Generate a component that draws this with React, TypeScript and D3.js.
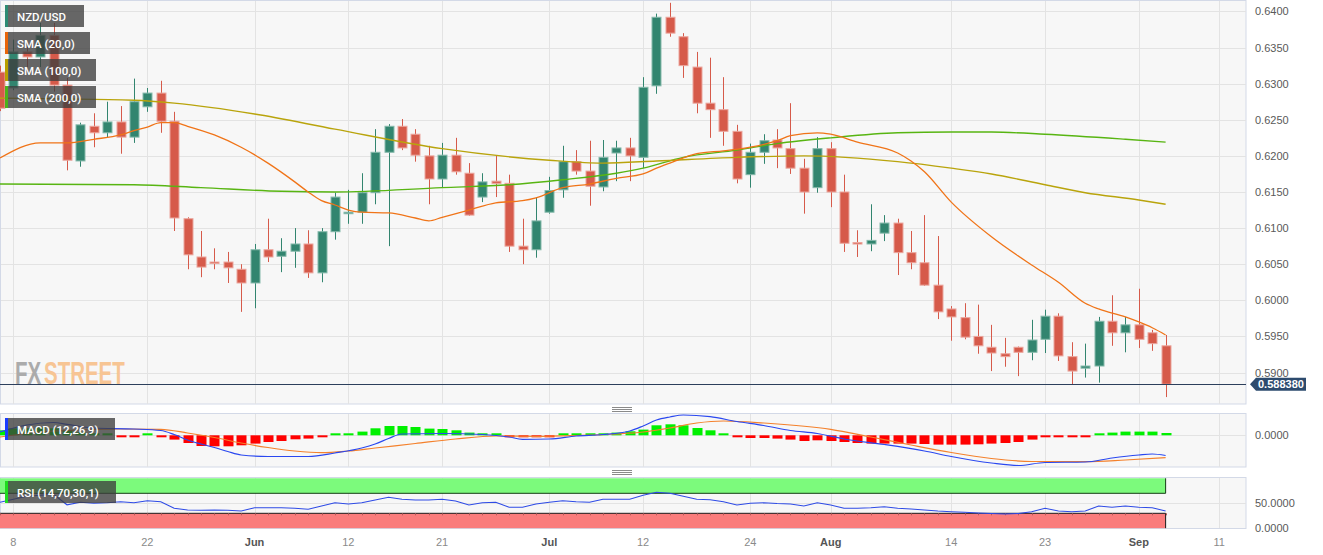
import React from "react";
import * as d3 from "d3";

// ---------- DATA ----------
const START_DATE = "2023-05-05"; // first (partly visible) candle
const openP = [0.6316,0.6294,0.6344,0.6337,0.6367,0.6298,0.6193,0.6241,0.6232,0.6247,0.6226,0.6268,0.6287,0.6248,0.6113,0.6060,0.6053,0.6053,0.6043,0.6024,0.6070,0.6061,0.6068,0.6078,0.6038,0.6095,0.6121,0.6122,0.6149,0.6205,0.6241,0.6230,0.6200,0.6168,0.6201,0.6176,0.6143,0.6165,0.6162,0.6075,0.6070,0.6122,0.6153,0.6192,0.6179,0.6157,0.6204,0.6211,0.6198,0.6297,0.6392,0.6365,0.6323,0.6273,0.6264,0.6234,0.6174,0.6205,0.6222,0.6210,0.6183,0.6156,0.6210,0.6150,0.6080,0.6078,0.6093,0.6107,0.6066,0.6052,0.6021,0.5988,0.5976,0.5950,0.5935,0.5926,0.5935,0.5928,0.5946,0.5978,0.5922,0.5906,0.5909,0.5971,0.5955,0.5966,0.5955,0.5937];
const highP = [0.6325,0.6361,0.6351,0.6384,0.6384,0.6308,0.6246,0.6259,0.6275,0.6269,0.6307,0.6294,0.6304,0.6261,0.6115,0.6096,0.6072,0.6067,0.6050,0.6078,0.6113,0.6086,0.6100,0.6097,0.6100,0.6149,0.6153,0.6176,0.6237,0.6244,0.6251,0.6237,0.6214,0.6218,0.6225,0.6190,0.6176,0.6201,0.6174,0.6113,0.6143,0.6171,0.6214,0.6208,0.6221,0.6222,0.6221,0.6225,0.6309,0.6397,0.6412,0.6370,0.6344,0.6336,0.6309,0.6243,0.6217,0.6230,0.6237,0.6273,0.6196,0.6226,0.6219,0.6174,0.6097,0.6133,0.6118,0.6113,0.6096,0.6118,0.6089,0.5992,0.5996,0.5994,0.5966,0.5948,0.5936,0.5973,0.5987,0.5982,0.5942,0.5940,0.5977,0.6007,0.5977,0.6016,0.5959,0.5952];
const lowP = [0.6262,0.6291,0.6323,0.6323,0.6289,0.6180,0.6185,0.6212,0.6226,0.6203,0.6218,0.6261,0.6232,0.6096,0.6043,0.6032,0.6043,0.6024,0.5984,0.5989,0.6053,0.6039,0.6045,0.6031,0.6025,0.6084,0.6106,0.6106,0.6133,0.6075,0.6208,0.6192,0.6133,0.6156,0.6174,0.6117,0.6136,0.6143,0.6067,0.6050,0.6059,0.6120,0.6142,0.6174,0.6131,0.6151,0.6165,0.6165,0.6183,0.6286,0.6365,0.6308,0.6259,0.6225,0.6214,0.6162,0.6156,0.6189,0.6183,0.6175,0.6120,0.6149,0.6129,0.6067,0.6060,0.6068,0.6082,0.6035,0.6043,0.6020,0.5974,0.5944,0.5946,0.5926,0.5902,0.5908,0.5895,0.5917,0.5927,0.5916,0.5884,0.5893,0.5886,0.5937,0.5928,0.5934,0.5930,0.5866];
const closeP = [0.6266,0.6344,0.6337,0.6367,0.6298,0.6194,0.6243,0.6232,0.6247,0.6226,0.6275,0.6287,0.6248,0.6114,0.6063,0.6046,0.6052,0.6045,0.6024,0.6070,0.6060,0.6068,0.6078,0.6038,0.6095,0.6143,0.6122,0.6149,0.6205,0.6241,0.6211,0.6201,0.6168,0.6201,0.6178,0.6118,0.6164,0.6162,0.6075,0.6070,0.6110,0.6152,0.6192,0.6179,0.6158,0.6198,0.6211,0.6200,0.6295,0.6392,0.6370,0.6325,0.6273,0.6264,0.6234,0.6168,0.6205,0.6221,0.6211,0.6183,0.6150,0.6210,0.6150,0.6079,0.6079,0.6083,0.6107,0.6066,0.6052,0.6021,0.5984,0.5977,0.5949,0.5937,0.5927,0.5922,0.5928,0.5945,0.5978,0.5923,0.5902,0.5909,0.5971,0.5955,0.5966,0.5946,0.5940,0.58838];

const sma20Day = [-1,2,4,6,8,9,10,11,12,13,15,17,19,21,22,23,24,25,26,28,30,31,32,34,36,38,39,41,43,45,47,48,49,51,53,55,57,58,60,61,63,66,67,68,70,73,76,78,80,81,83,84,85,86];
const sma20Val = [0.6197,0.6218,0.6218,0.6223,0.6229,0.6235,0.6240,0.6246,0.6246,0.6241,0.6229,0.6212,0.6190,0.6164,0.6150,0.6138,0.6132,0.6125,0.6122,0.6121,0.6114,0.6110,0.6115,0.6125,0.6135,0.6138,0.6142,0.6156,0.6161,0.6169,0.6175,0.6183,0.6190,0.6203,0.6207,0.6212,0.6221,0.6228,0.6232,0.6230,0.6219,0.6204,0.6193,0.6178,0.6136,0.6088,0.6049,0.6025,0.5996,0.5988,0.5977,0.5970,0.5962,0.5952];
const sma100Day = [-1,9,12,18,24,32,40,44,48,54,59,66,70,73,77,80,84,86];
const sma100Val = [0.6280,0.6277,0.6273,0.6258,0.6237,0.6210,0.6194,0.6190,0.6193,0.6198,0.6200,0.6192,0.6183,0.6175,0.6160,0.6149,0.6139,0.6133];
const sma200Day = [-1,9,14,20,24,32,37,41,45,47,50,54,57,61,66,70,73,77,83,86];
const sma200Val = [0.6161,0.6160,0.6156,0.6151,0.6150,0.6156,0.6160,0.6167,0.6176,0.6183,0.6198,0.6208,0.6217,0.6225,0.6232,0.6233,0.6233,0.6230,0.6223,0.6219];

const macdDay = [-1,1,3,4,6,9,11,12,13,14,15,16,17,19,22,24,26,27,28,29,32,35,37,38,40,42,44,46,47,48,49,50,52,54,56,58,60,62,65,68,70,73,75,77,80,82,84,85,86];
const macdVal = [0.00033,0.00103,0.00128,0.0011,0.00073,0.00063,0.00048,0.00008,-0.00047,-0.00087,-0.00122,-0.00162,-0.00197,-0.00212,-0.00212,-0.00177,-0.00127,-0.00087,-0.00032,0.00013,0.00018,0.00008,-0.00017,-0.0004,-0.00037,-0.00007,0.00008,0.00043,0.00093,0.00153,0.00183,0.00203,0.00186,0.00138,0.00098,0.00048,0.00018,-0.00037,-0.00092,-0.00157,-0.00212,-0.00277,-0.00302,-0.00272,-0.00267,-0.00227,-0.00197,-0.00187,-0.00202];
const signalDay = [-1,2,5,8,11,13,15,17,19,21,23,25,27,30,33,36,39,42,45,47,49,51,53,56,61,64,67,70,73,76,80,83,86];
const signalVal = [-0.00017,0.00033,0.00053,0.00063,0.0006,0.00023,-0.00022,-0.00077,-0.00122,-0.00157,-0.00174,-0.00157,-0.00127,-0.00082,-0.00037,-0.00007,-0.0001,-0.00002,0.00013,0.00033,0.00073,0.00123,0.00143,0.00123,0.0006,-0.00017,-0.00097,-0.00172,-0.00232,-0.00262,-0.00264,-0.00247,-0.00224];
const histVal = [5,7,7,8,7,5,3,2,1,-0.5,-0.3,0.4,-0.7,-4.3,-7.7,-10.7,-11,-11,-10,-8.3,-6.7,-5.7,-4,-3.3,-1.7,1,2,3.7,7,9.3,9.3,8.3,6.7,6.3,5,2.7,1.7,1.3,-1.7,-1.7,-1.7,-1.3,0.7,1,1.3,1.7,2.7,4,5.7,10,11,10,7.3,5,1.7,-1,-2.7,-2.7,-3.3,-4.3,-5.7,-5,-5.7,-6.7,-7.7,-8.3,-8.3,-8.3,-8.3,-8.7,-9.3,-9.3,-9.3,-9,-8.3,-7.7,-6.7,-4.3,-1.7,-1.7,-1.7,-1.3,1.3,2.7,3.7,3.7,3.7,2.3].map(v => v / 10000);
const rsiVal = [52,58,64,66,68,47,52,50,51,53,51,55,53,40,36.6,36,36.6,36,34.6,41,41,41,40,38,44.6,51,48.6,51,56.6,62,58,56.6,56.6,58,54.6,46.6,51,52,42,42,48.6,52,55,53,52,58,58,58,66,72,70,64,58,57,53,46.6,50,51,49.5,48.6,44.6,51,46.6,40,40,41,43,40,38.5,36.6,34.5,33,32,30.5,29.5,28.6,29.5,33,40,34.5,33,34.6,44.6,42,44.6,42,41,34.6];

const priceTicks = [0.59,0.595,0.6,0.605,0.61,0.615,0.62,0.625,0.63,0.635,0.64];
const tickDates = ["2023-05-08","2023-05-22","2023-06-01","2023-06-12","2023-06-21","2023-07-03","2023-07-12","2023-07-24","2023-08-01","2023-08-14","2023-08-23","2023-09-01","2023-09-11"];
const tickLabels = ["8","22","Jun","12","21","Jul","12","24","Aug","14","23","Sep","11"];
const tickIsMonth = [false,false,true,false,false,true,false,false,true,false,false,true,false];
const lastPrice = 0.58838;

// ---------- HELPERS ----------
function tradingDays(start: string, n: number): string[] {
  const out: string[] = [];
  const d = new Date(start + "T00:00:00Z");
  while (out.length < n) {
    const wd = d.getUTCDay();
    if (wd !== 0 && wd !== 6) out.push(d.toISOString().slice(0, 10));
    d.setUTCDate(d.getUTCDate() + 1);
  }
  return out;
}

const FONT = "'Liberation Sans', Arial, sans-serif";
const LFONT = "Roboto, 'Liberation Sans', Arial, sans-serif";

export default function App() {
  const days = tradingDays(START_DATE, 100);
  const kOf = (date: string) => days.indexOf(date) - 1;

  const PW = 1246;
  const x = d3.scaleLinear().domain([-1, 92]).range([0, PW]);
  const y = d3.scaleLinear().domain([0.58564, 0.64145]).range([404, 1]);
  const ym = d3.scaleLinear().domain([-0.00317, 0.00223]).range([467, 413]);
  const yr = d3.scaleLinear().domain([0, 100]).range([528.3, 478.3]);

  const ks = openP.map((_, i) => i - 1);
  const tickKs = tickDates.map(kOf);

  const priceLine = d3.line<[number, number]>().x(d => x(d[0])).y(d => y(d[1])).curve(d3.curveMonotoneX);
  const macdLine = d3.line<[number, number]>().x(d => x(d[0])).y(d => ym(d[1])).curve(d3.curveMonotoneX);
  const rsiLine = d3.line<[number, number]>().x(d => x(d[0])).y(d => yr(d[1]));

  const zip = (a: number[], b: number[]) => a.map((v, i) => [v, b[i]] as [number, number]);

  const GREEN = "#32856f", GREEN_S = "#86b9ab";
  const RED = "#d65a4a", RED_S = "#eba69d";
  const lastX = x(86);

  const grip = (cy: number) => (
    <g stroke="#8a8a8a" strokeWidth={1}>
      {[-2, 0, 2].map(o => <line key={o} x1={612} x2={632} y1={cy + o + 0.5} y2={cy + o + 0.5} />)}
    </g>
  );

  const legend = (lx: number, ly: number, w: number, color: string, label: string) => (
    <g>
      <rect x={lx} y={ly} width={w} height={22} fill="rgba(62,62,62,0.78)" />
      <rect x={lx} y={ly} width={3} height={22} fill={color} />
      <text x={lx + 12} y={ly + 15.5} fill="#fff" fontFamily={LFONT} fontSize={11.5} fontWeight={500}>{label}</text>
    </g>
  );

  return (
    <div style={{ position: "absolute", left: 0, top: 0 }}>
      <svg width={1323} height={555} style={{ display: "block" }}>
        <defs>
          <clipPath id="cMain"><rect x={0} y={1} width={PW} height={403} /></clipPath>
          <clipPath id="cMacd"><rect x={0} y={413} width={PW} height={54} /></clipPath>
          <clipPath id="cRsi"><rect x={0} y={477} width={PW} height={51.5} /></clipPath>
        </defs>
        <rect x={0} y={0} width={1323} height={555} fill="#ffffff" />

        {/* Panels */}
        <rect x={0.5} y={0.5} width={PW - 0.5} height={403.5} fill="#f7f7f7" stroke="#d3d9e7" />
        <rect x={0.5} y={413.5} width={PW - 0.5} height={53.5} fill="#f7f7f7" stroke="#d3d9e7" />
        <rect x={0.5} y={477.5} width={PW - 0.5} height={51} fill="#f7f7f7" stroke="#d3d9e7" />

        {/* Grid */}
        <g stroke="#e3e3e3" strokeWidth={1}>
          {priceTicks.map(p => <line key={"h" + p} x1={1} x2={PW} y1={Math.round(y(p)) + 0.5} y2={Math.round(y(p)) + 0.5} />)}
          {tickKs.map((k, i) => (
            <g key={"v" + i}>
              <line x1={Math.round(x(k)) + 0.5} x2={Math.round(x(k)) + 0.5} y1={1} y2={404} />
              <line x1={Math.round(x(k)) + 0.5} x2={Math.round(x(k)) + 0.5} y1={414} y2={467} />
              <line x1={Math.round(x(k)) + 0.5} x2={Math.round(x(k)) + 0.5} y1={478} y2={528} />
            </g>
          ))}
          <line x1={1} x2={PW} y1={Math.round(ym(0)) + 0.5} y2={Math.round(ym(0)) + 0.5} />
          <line x1={1} x2={PW} y1={Math.round(yr(50)) + 0.5} y2={Math.round(yr(50)) + 0.5} />
        </g>

        {/* Watermark */}
        <g transform="translate(15,384) scale(1,1.55)" fontFamily={FONT} fontWeight="bold" fontSize={20.5}>
          <text x={0} y={0} fill="#ababab">FX</text>
          <text x={29} y={0} fill="#f7c594">STREET</text>
        </g>

        {/* Candles */}
        <g clipPath="url(#cMain)">
          {ks.map((k, i) => {
            const up = closeP[i] >= openP[i];
            const cx = x(k);
            const top = y(Math.max(openP[i], closeP[i]));
            const bot = y(Math.min(openP[i], closeP[i]));
            const h = Math.max(1.5, bot - top);
            return (
              <g key={"c" + i}>
                <line x1={Math.round(cx) + 0.5} x2={Math.round(cx) + 0.5} y1={y(highP[i])} y2={y(lowP[i])} stroke={up ? GREEN : RED} strokeWidth={1} />
                <rect x={Math.round(cx) - 4} y={top} width={9} height={h} fill={up ? GREEN : RED} stroke={up ? GREEN_S : RED_S} strokeWidth={1} />
              </g>
            );
          })}
          <path d={priceLine(zip(sma200Day, sma200Val)) || ""} fill="none" stroke="#58b512" strokeWidth={1.4} />
          <path d={priceLine(zip(sma100Day, sma100Val)) || ""} fill="none" stroke="#b9a40c" strokeWidth={1.4} />
          <path d={priceLine(zip(sma20Day, sma20Val)) || ""} fill="none" stroke="#f07418" strokeWidth={1.3} />
          <line x1={0} x2={PW} y1={Math.round(y(lastPrice)) + 0.5} y2={Math.round(y(lastPrice)) + 0.5} stroke="#2c3f5c" strokeWidth={1} />
        </g>

        {/* MACD */}
        <g clipPath="url(#cMacd)">
          {ks.map((k, i) => {
            const v = histVal[i];
            const y0 = ym(0), y1 = ym(v);
            const h = Math.max(2, Math.abs(y1 - y0));
            return <rect key={"hb" + i} x={Math.round(x(k)) - 4.5} y={v >= 0 ? y0 - h : y0} width={10} height={h} fill={v >= 0 ? "#00f000" : "#ff0000"} />;
          })}
          <path d={macdLine(zip(signalDay, signalVal)) || ""} fill="none" stroke="#f4812c" strokeWidth={1.2} />
          <path d={macdLine(zip(macdDay, macdVal)) || ""} fill="none" stroke="#2a48f0" strokeWidth={1.2} />
        </g>

        {/* RSI */}
        <g clipPath="url(#cRsi)">
          <rect x={0} y={yr(100)} width={lastX} height={yr(70) - yr(100)} fill="#7cfa7c" />
          <rect x={0} y={yr(30)} width={lastX} height={yr(0) - yr(30)} fill="#fa7c7c" />
          <path d={`M0,${yr(70)}H${lastX}V${yr(100)}`} fill="none" stroke="#153d15" strokeWidth={1} />
          <path d={`M0,${yr(30)}H${lastX}V${yr(0)}`} fill="none" stroke="#1a1a1a" strokeWidth={1} />
          {ks.map((k, i) => <line key={"rt" + i} x1={Math.round(x(k)) + 0.5} x2={Math.round(x(k)) + 0.5} y1={yr(30)} y2={yr(30) + 2} stroke="#b45a5a" strokeWidth={1} />)}
          <path d={rsiLine(zip(ks, rsiVal)) || ""} fill="none" stroke="#2e4be6" strokeWidth={1.1} />
        </g>

        {/* Grips */}
        {grip(409)}
        {grip(472)}

        {/* Legends */}
        {legend(5, 5, 79, "#2e8b74", "NZD/USD")}
        {legend(5, 32, 85, "#e8650a", "SMA (20,0)")}
        {legend(5, 59, 91, "#b8a000", "SMA (100,0)")}
        {legend(5, 86, 91, "#4cb01c", "SMA (200,0)")}
        {legend(5, 418, 110, "#1a3cff", "MACD (12,26,9)")}
        {legend(5, 481, 111, "#1fdc1f", "RSI (14,70,30,1)")}

        {/* Right axis */}
        <g fontFamily={FONT} fontSize={11} fill="#595959">
          {priceTicks.map(p => <text key={"yl" + p} x={1255} y={y(p) + 4}>{p.toFixed(4)}</text>)}
          <text x={1255} y={ym(0) + 4}>{(0).toFixed(4)}</text>
          <text x={1255} y={yr(50) + 4}>{(50).toFixed(4)}</text>
          <text x={1255} y={yr(0) + 4}>{(0).toFixed(4)}</text>
        </g>

        {/* Last price label */}
        <g>
          <path d={`M1250,${y(lastPrice)}L1256,${y(lastPrice) - 6.5}H1306V${y(lastPrice) + 6.5}H1256Z`} fill="#2d4b6e" />
          <text x={1258} y={y(lastPrice) + 4} fill="#fff" fontFamily={FONT} fontSize={11} fontWeight="bold">{lastPrice.toFixed(6)}</text>
        </g>

        {/* X axis */}
        <g fontFamily={FONT} fontSize={11} textAnchor="middle">
          {tickKs.map((k, i) => (
            <text key={"xl" + i} x={x(k)} y={546} fill={tickIsMonth[i] ? "#555" : "#8a8a8a"} fontWeight={tickIsMonth[i] ? "bold" : "normal"}>{tickLabels[i]}</text>
          ))}
        </g>
      </svg>
    </div>
  );
}
